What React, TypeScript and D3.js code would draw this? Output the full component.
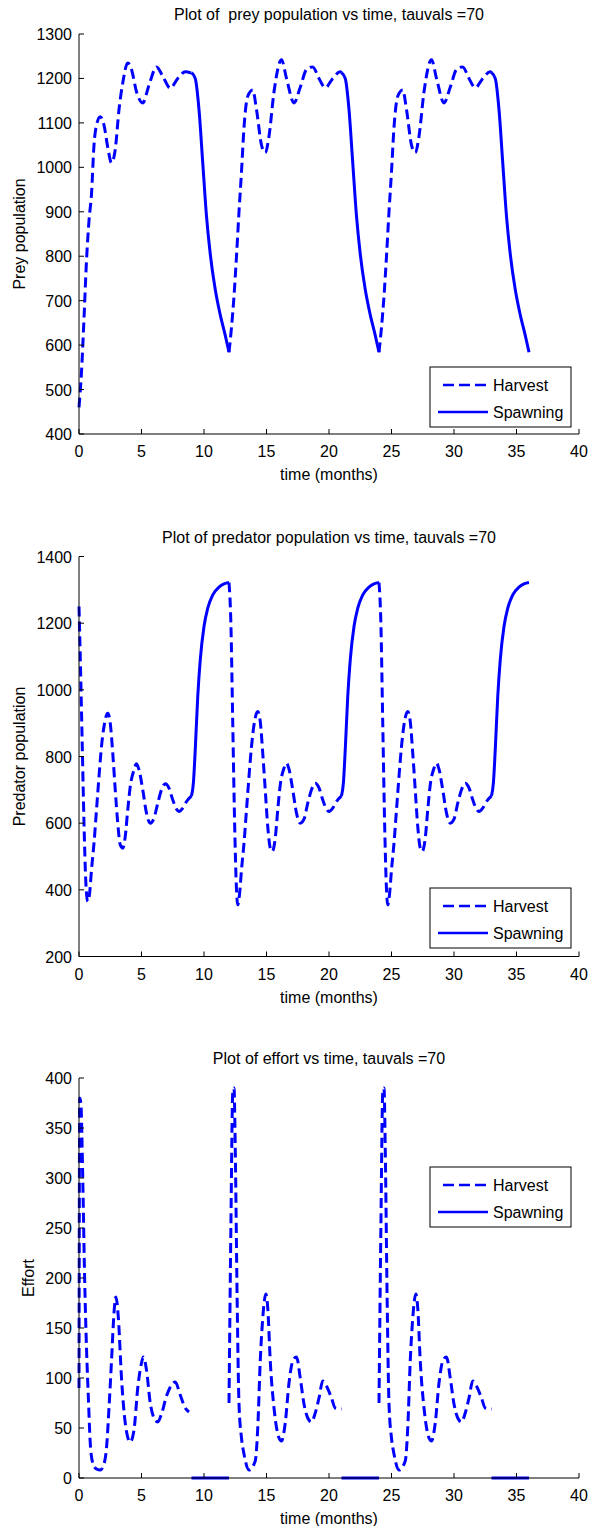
import React from "react";
import * as d3 from "d3";

// ---------- data (time in months relative to season start, value) ----------
const seasonStarts = [0, 12, 24];

const xTicks = [0, 5, 10, 15, 20, 25, 30, 35, 40];
const preyTicks = [400, 500, 600, 700, 800, 900, 1000, 1100, 1200, 1300];
const predTicks = [200, 400, 600, 800, 1000, 1200, 1400];
const effortTicks = [0, 50, 100, 150, 200, 250, 300, 350, 400];

const preyHarvestFirst: [number, number][] = [
  [0, 460], [0.2, 540], [0.4, 660], [0.6, 790], [0.8, 880], [1.0, 940], [1.2, 1050],
  [1.4, 1095], [1.7, 1114], [2.0, 1095], [2.3, 1045], [2.6, 1010], [2.9, 1040],
  [3.2, 1130], [3.5, 1190], [3.9, 1235], [4.2, 1220], [4.6, 1170], [5.1, 1145],
  [5.6, 1185], [6.2, 1226], [6.7, 1205], [7.3, 1178], [7.9, 1200], [8.5, 1215], [9.0, 1212],
];
const preyHarvestLater: [number, number][] = [
  [0, 584], [0.2, 640], [0.4, 710], [0.6, 800], [0.8, 900], [1.0, 990], [1.2, 1090],
  [1.5, 1160], [1.9, 1174], [2.2, 1130], [2.6, 1050], [2.9, 1033], [3.2, 1070],
  [3.6, 1170], [4.2, 1242], [4.6, 1200], [5.2, 1145], [5.7, 1180], [6.2, 1220],
  [6.7, 1226], [7.2, 1200], [7.7, 1179], [8.3, 1200], [8.9, 1215], [9.0, 1213],
];
const preySpawning: [number, number][] = [
  [9.0, 1213], [9.3, 1200], [9.6, 1130], [9.9, 1010], [10.2, 890], [10.5, 805],
  [10.9, 725], [11.3, 668], [11.7, 622], [12.0, 584],
];

const predHarvestFirst: [number, number][] = [
  [0, 1250], [0.1, 1100], [0.25, 850], [0.4, 600], [0.55, 420], [0.7, 365], [0.85, 390],
  [1.0, 460], [1.2, 540], [1.4, 640], [1.6, 740], [1.8, 830], [2.0, 890], [2.3, 930],
  [2.5, 900], [2.7, 810], [2.9, 700], [3.1, 600], [3.3, 535], [3.5, 525], [3.7, 560],
  [3.9, 640], [4.1, 710], [4.4, 760], [4.6, 778], [4.8, 760], [5.1, 700], [5.4, 630],
  [5.7, 600], [6.0, 615], [6.3, 660], [6.6, 700], [6.9, 718], [7.2, 705], [7.5, 670],
  [7.8, 642], [8.0, 635], [8.3, 645], [8.6, 665], [9.0, 682],
];
const predHarvestLater: [number, number][] = [
  [0, 1322], [0.15, 1200], [0.3, 900], [0.45, 600], [0.6, 400], [0.7, 355], [0.85, 390],
  [1.0, 460], [1.2, 540], [1.4, 640], [1.6, 740], [1.8, 830], [2.0, 895], [2.3, 935],
  [2.5, 905], [2.7, 810], [2.9, 700], [3.1, 590], [3.3, 525], [3.45, 515], [3.7, 555],
  [3.9, 640], [4.1, 715], [4.4, 765], [4.6, 780], [4.8, 762], [5.1, 700], [5.4, 630],
  [5.7, 600], [6.0, 612], [6.3, 660], [6.6, 700], [6.9, 720], [7.2, 706], [7.5, 670],
  [7.8, 642], [8.0, 635], [8.3, 645], [8.6, 665], [9.0, 682],
];
const predSpawning: [number, number][] = [
  [9.0, 682], [9.15, 720], [9.3, 820], [9.5, 980], [9.7, 1090], [10.0, 1190],
  [10.3, 1245], [10.7, 1285], [11.2, 1308], [11.6, 1318], [12.0, 1322],
];

const effortHarvestFirst: [number, number][] = [
  [0, 90], [0.06, 380], [0.15, 375], [0.3, 300], [0.45, 200], [0.6, 130], [0.75, 80],
  [0.9, 35], [1.1, 15], [1.4, 9], [1.7, 8], [2.0, 14], [2.2, 30], [2.4, 70], [2.6, 117],
  [2.8, 165], [2.95, 181], [3.15, 160], [3.4, 100], [3.7, 55], [4.1, 36], [4.4, 48],
  [4.7, 90], [5.0, 115], [5.15, 121], [5.4, 108], [5.7, 75], [6.0, 60], [6.3, 56],
  [6.6, 64], [7.0, 82], [7.4, 93], [7.7, 96], [8.1, 83], [8.5, 70], [8.8, 66],
];
const effortHarvestLater: [number, number][] = [
  [0, 75], [0.15, 250], [0.3, 385], [0.4, 390], [0.5, 330], [0.65, 180], [0.8, 74],
  [1.0, 40], [1.2, 24], [1.6, 8], [2.1, 17], [2.3, 50], [2.5, 117], [2.7, 160],
  [2.95, 184], [3.1, 170], [3.3, 117], [3.6, 70], [4.0, 40], [4.2, 37], [4.5, 55],
  [4.8, 95], [5.1, 117], [5.4, 121], [5.7, 100], [6.0, 74], [6.3, 60], [6.6, 56],
  [6.9, 65], [7.2, 80], [7.5, 97], [7.8, 92], [8.2, 80], [8.5, 70], [9.0, 69],
];
const effortSpawning: [number, number][] = [[9.0, 0], [12.0, 0]];

const legendLabels = ["Harvest", "Spawning"];

// ---------- layout ----------
const W = 597;
const H = 1526;
const LEFT = 79;
const RIGHT = 579;
const PH = 400;
const BLUE = "#0000ff";
const FONT = "'Liberation Sans', Arial, Helvetica, sans-serif";

type Pt = [number, number];

function shift(pts: Pt[], dt: number): Pt[] {
  return pts.map(([t, v]) => [t + dt, v] as Pt);
}

interface PanelProps {
  top: number;
  title: string;
  ylabel: string;
  ylabelX: number;
  domain: [number, number];
  ticks: number[];
  harvestFirst: Pt[];
  harvestLater: Pt[];
  spawning: Pt[];
  legendTop: number;
}

function Panel(p: PanelProps) {
  const x = d3.scaleLinear().domain([0, 40]).range([LEFT, RIGHT]);
  const y = d3.scaleLinear().domain(p.domain).range([p.top + PH, p.top]);
  const line = d3
    .line<Pt>()
    .x((d) => x(d[0]))
    .y((d) => y(d[1]))
    .curve(d3.curveMonotoneX);
  const bottom = p.top + PH;
  const harvestSegs = seasonStarts.map((s, i) => shift(i === 0 ? p.harvestFirst : p.harvestLater, s));
  const spawnSegs = seasonStarts.map((s) => shift(p.spawning, s));
  const lx = 430;
  const lw = 141;
  const lt = p.legendTop;
  return (
    <g>
      <text x={(LEFT + RIGHT) / 2} y={p.top - 14} textAnchor="middle" fontSize={16} style={{ whiteSpace: "pre" }}>
        {p.title}
      </text>
      {harvestSegs.map((seg, i) => (
        <path key={"h" + i} d={line(seg) || ""} fill="none" stroke={BLUE} strokeWidth={3} strokeDasharray="10,5" />
      ))}
      {spawnSegs.map((seg, i) => (
        <path key={"s" + i} d={line(seg) || ""} fill="none" stroke={BLUE} strokeWidth={3} />
      ))}
      {/* axes */}
      <line x1={LEFT} x2={LEFT} y1={p.top} y2={bottom} stroke="#000" strokeWidth={1} />
      <line x1={LEFT} x2={RIGHT} y1={bottom} y2={bottom} stroke="#000" strokeWidth={1} />
      {xTicks.map((t) => (
        <g key={"xt" + t}>
          <line x1={x(t)} x2={x(t)} y1={bottom} y2={bottom - 5} stroke="#000" />
          <text x={x(t)} y={bottom + 23} textAnchor="middle" fontSize={16}>
            {t}
          </text>
        </g>
      ))}
      {p.ticks.map((t) => (
        <g key={"yt" + t}>
          <line x1={LEFT} x2={LEFT + 5} y1={y(t)} y2={y(t)} stroke="#000" />
          <text x={LEFT - 7} y={y(t) + 6} textAnchor="end" fontSize={16}>
            {t}
          </text>
        </g>
      ))}
      <text x={(LEFT + RIGHT) / 2} y={bottom + 46} textAnchor="middle" fontSize={16}>
        time (months)
      </text>
      <text
        transform={`translate(${p.ylabelX},${p.top + PH / 2}) rotate(-90)`}
        textAnchor="middle"
        fontSize={16}
      >
        {p.ylabel}
      </text>
      {/* legend */}
      <rect x={lx} y={lt} width={lw} height={60} fill="#fff" stroke="#000" strokeWidth={1} />
      <line x1={443} x2={487} y1={lt + 18} y2={lt + 18} stroke={BLUE} strokeWidth={2.5} strokeDasharray="11,5" />
      <text x={493} y={lt + 24} fontSize={16}>
        {legendLabels[0]}
      </text>
      <line x1={438} x2={488} y1={lt + 45} y2={lt + 45} stroke={BLUE} strokeWidth={2.5} />
      <text x={493} y={lt + 51} fontSize={16}>
        {legendLabels[1]}
      </text>
    </g>
  );
}

export default function App() {
  return (
    <svg
      width={W}
      height={H}
      style={{ position: "absolute", left: 0, top: 0, background: "#fff", fontFamily: FONT }}
      fontFamily={FONT}
    >
      <rect x={0} y={0} width={W} height={H} fill="#fff" />
      <Panel
        top={34}
        title={"Plot of  prey population vs time, tauvals =70"}
        ylabel="Prey population"
        ylabelX={25}
        domain={[400, 1300]}
        ticks={preyTicks}
        harvestFirst={preyHarvestFirst}
        harvestLater={preyHarvestLater}
        spawning={preySpawning}
        legendTop={367}
      />
      <Panel
        top={556.5}
        title={"Plot of predator population vs time, tauvals =70"}
        ylabel="Predator population"
        ylabelX={25}
        domain={[200, 1400]}
        ticks={predTicks}
        harvestFirst={predHarvestFirst}
        harvestLater={predHarvestLater}
        spawning={predSpawning}
        legendTop={888}
      />
      <Panel
        top={1078}
        title={"Plot of effort vs time, tauvals =70"}
        ylabel="Effort"
        ylabelX={34}
        domain={[0, 400]}
        ticks={effortTicks}
        harvestFirst={effortHarvestFirst}
        harvestLater={effortHarvestLater}
        spawning={effortSpawning}
        legendTop={1167}
      />
    </svg>
  );
}
